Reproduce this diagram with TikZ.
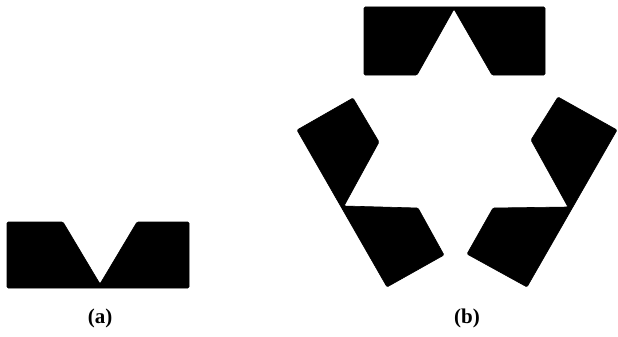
\documentclass[tikz,border=0pt]{standalone}
\usepackage{fontspec}
\setmainfont{Liberation Serif}
\begin{document}
\begin{tikzpicture}[x=1pt,y=-1pt,
  piece/.style={fill=black,draw=black,line width=0.6pt,line join=round,rounded corners=1.2pt},
  lbl/.style={font=\bfseries\fontsize{21}{24}\selectfont,inner sep=0pt}]
\useasboundingbox (0,0) rectangle (618,337);
% (a)
\fill[piece] (7,222) -- (63,222) -- (100,284) -- (137,222) -- (189,222) -- (189,288) -- (7,288) -- cycle;
% (b) top bar
\fill[piece] (364,7) -- (545,7) -- (545,75) -- (492,75) -- (454,9) -- (417,75) -- (364,75) -- cycle;
% (b) left bar
\fill[piece] (297,130) -- (353,98) -- (379,142) -- (344,206) -- (418,208) -- (444,255) -- (387,287) -- cycle;
% (b) right bar
\fill[piece] (617,130) -- (558,97) -- (531,140) -- (568,207) -- (493,208) -- (467,254) -- (527,287) -- cycle;
\node[lbl] (la) at (100,318) {(a)};
\node[lbl] (lb) at (467,318) {(b)};
\end{tikzpicture}
\end{document}
